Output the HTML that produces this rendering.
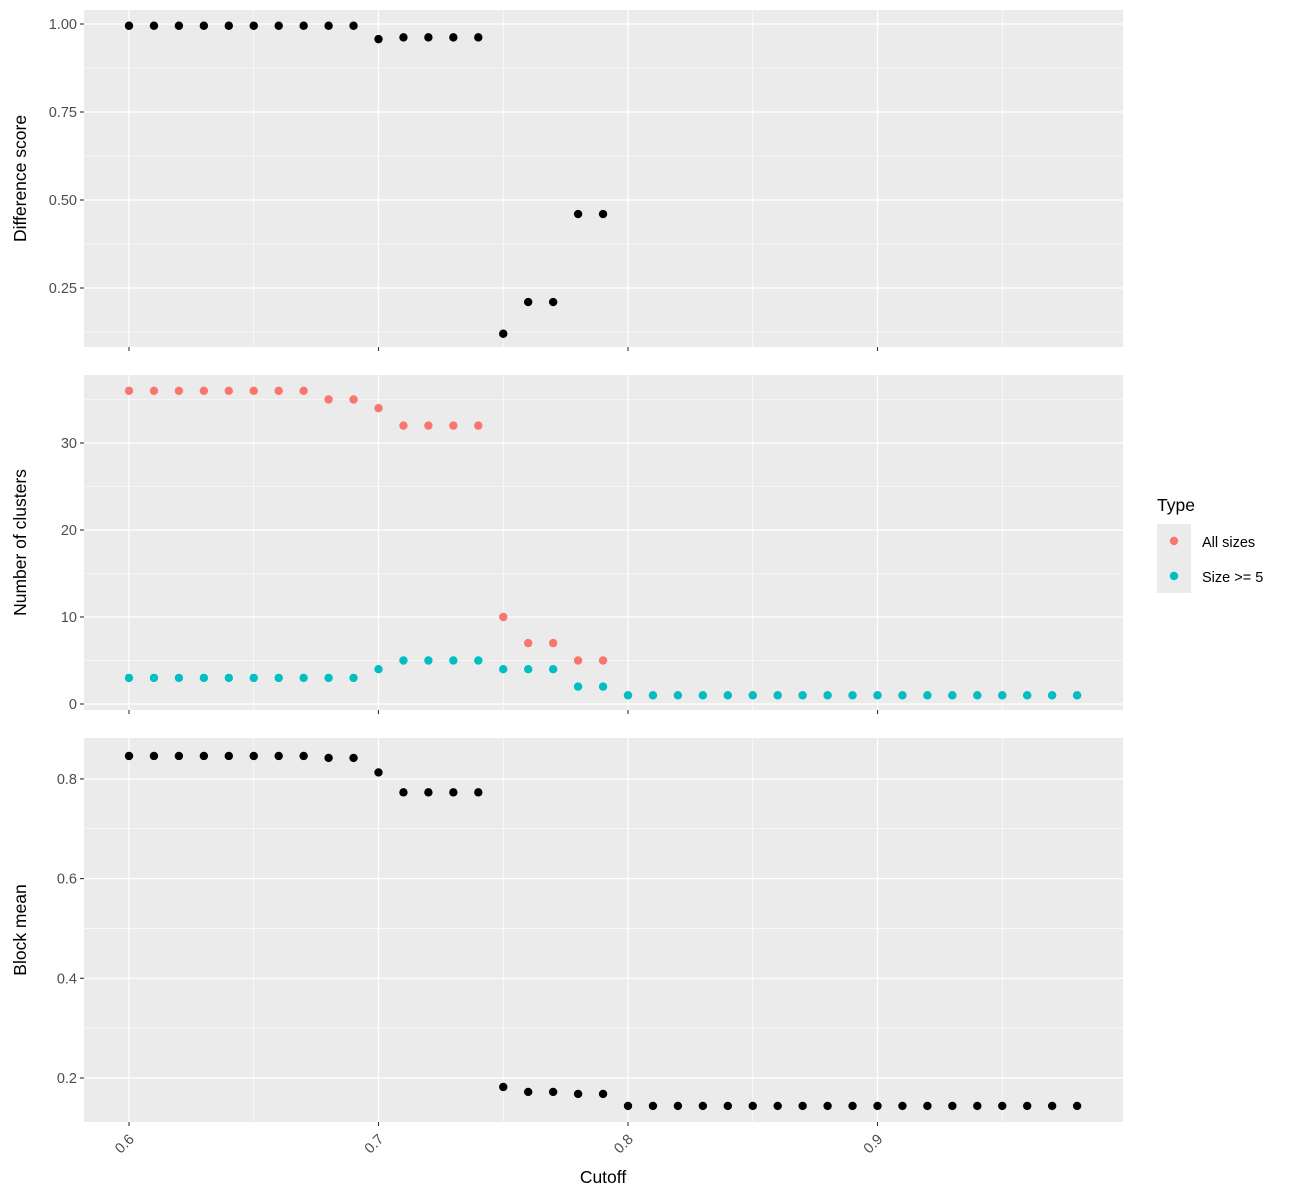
<!DOCTYPE html>
<html><head><style>body{margin:0;background:#fff}svg{display:block}</style></head><body>
<svg id="s" width="1300" height="1200" xmlns="http://www.w3.org/2000/svg" font-family="Liberation Sans, sans-serif"></svg>
<script>
const s=document.getElementById('s');let h='';
const L=84,R=1123;
const X=v=>129+(v-0.6)*2495;
const panels=[
 {t:10,b:347,y:v=>24+(1-v)*352,maj:[0.25,0.5,0.75,1.0],min:[0.125,0.375,0.625,0.875],lab:['0.25','0.50','0.75','1.00'],title:'Difference score'},
 {t:375,b:710,y:v=>704-v*8.7,maj:[0,10,20,30],min:[5,15,25,35],lab:['0','10','20','30'],title:'Number of clusters'},
 {t:738,b:1122,y:v=>1078-(v-0.2)*498.5,maj:[0.2,0.4,0.6,0.8],min:[0.3,0.5,0.7],lab:['0.2','0.4','0.6','0.8'],title:'Block mean'}];
panels.forEach(p=>{
 h+=`<rect x="${L}" y="${p.t}" width="${R-L}" height="${p.b-p.t}" fill="#ebebeb"/>`;
 p.min.forEach(v=>{const y=p.y(v);if(y>p.t&&y<p.b)h+=`<line x1="${L}" x2="${R}" y1="${y}" y2="${y}" stroke="#fff" stroke-width="0.6"/>`});
 [0.65,0.75,0.85,0.95].forEach(v=>h+=`<line x1="${X(v)}" x2="${X(v)}" y1="${p.t}" y2="${p.b}" stroke="#fff" stroke-width="0.6"/>`);
 p.maj.forEach((v,i)=>{const y=p.y(v);h+=`<line x1="${L}" x2="${R}" y1="${y}" y2="${y}" stroke="#fff" stroke-width="1.2"/><line x1="${L-4}" x2="${L}" y1="${y}" y2="${y}" stroke="#333" stroke-width="1.1"/><text x="${L-7}" y="${y+5}" font-size="14.5" fill="#4d4d4d" text-anchor="end">${p.lab[i]}</text>`});
 [0.6,0.7,0.8,0.9].forEach(v=>h+=`<line x1="${X(v)}" x2="${X(v)}" y1="${p.t}" y2="${p.b}" stroke="#fff" stroke-width="1.2"/><line x1="${X(v)}" x2="${X(v)}" y1="${p.b}" y2="${p.b+4}" stroke="#333" stroke-width="1.1"/>`);
 const cy=(p.t+p.b)/2;
 h+=`<text transform="translate(26,${cy}) rotate(-90)" font-size="17.5" text-anchor="middle">${p.title}</text>`;
});
const xs=[];for(let i=0;i<=38;i++)xs.push(+(0.6+i*0.01).toFixed(2));
const d1=[.995,.995,.995,.995,.995,.995,.995,.995,.995,.995,.957,.962,.962,.962,.962,.12,.21,.21,.46,.46];
const red=[36,36,36,36,36,36,36,36,35,35,34,32,32,32,32,10,7,7,5,5];
const cyan=[3,3,3,3,3,3,3,3,3,3,4,5,5,5,5,4,4,4,2,2];
const d3=[.846,.846,.846,.846,.846,.846,.846,.846,.842,.842,.813,.773,.773,.773,.773,.182,.172,.172,.168,.168];
const pt=(x,y,c)=>h+=`<circle cx="${x}" cy="${y}" r="4.2" fill="${c}"/>`;
xs.forEach((x,i)=>{
 if(i<20)pt(X(x),panels[0].y(d1[i]),'#000');
 pt(X(x),panels[1].y(i<20?red[i]:1),'#f8766d');
 pt(X(x),panels[1].y(i<20?cyan[i]:1),'#00bfc4');
 pt(X(x),panels[2].y(i<20?d3[i]:0.144),'#000');
});
['0.6','0.7','0.8','0.9'].forEach((t,i)=>{const x=X(0.6+i*0.1);h+=`<text transform="translate(${x+6},${1140}) rotate(-45)" font-size="14.5" fill="#4d4d4d" text-anchor="end">${t}</text>`});
h+=`<text x="603" y="1183" font-size="17.5" text-anchor="middle">Cutoff</text>`;
h+=`<text x="1157" y="511" font-size="17.5">Type</text>
<rect x="1157" y="524" width="34" height="69" fill="#ebebeb"/>
<circle cx="1174" cy="541" r="4.2" fill="#f8766d"/><circle cx="1174" cy="576" r="4.2" fill="#00bfc4"/>
<text x="1202" y="547" font-size="14.5">All sizes</text><text x="1202" y="582" font-size="14.5">Size &gt;= 5</text>`;
s.innerHTML=h;
</script>
</body></html>
